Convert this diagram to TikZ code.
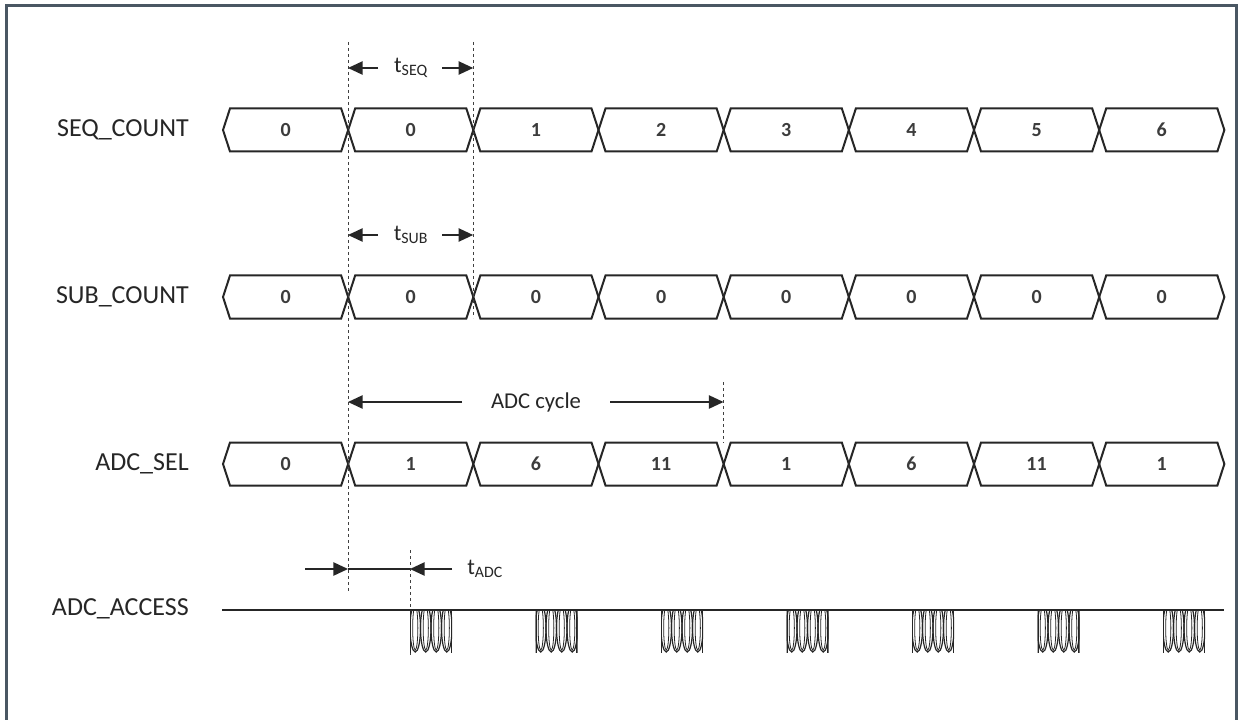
\documentclass[tikz,border=0pt]{standalone}
\usepackage{fontspec}
\setmainfont{Carlito}
\usetikzlibrary{arrows.meta}
\definecolor{framec}{HTML}{4A5763}
\definecolor{ink}{HTML}{262626}
\newcommand\busrow[3]{%
  \foreach \v [count=\i from 0] in {#3} {
    \pgfmathsetmacro\xa{223+\i*125.17}
    \pgfmathsetmacro\xb{\xa+125.17}
    \draw[bus] (\xa,#2) -- (\xa+7,#2-21.5) -- (\xb-7,#2-21.5) -- (\xb,#2)
      -- (\xb-7,#2+21.5) -- (\xa+7,#2+21.5) -- cycle;
    \node[val] (#1-\i) at ({(\xa+\xb)/2},#2) {\v};
  }%
}
\begin{document}
\begin{tikzpicture}[x=0.75pt,y=-0.75pt,
  bus/.style={line width=1.5pt, line join=miter, draw=ink},
  vline/.style={draw=black!75, line width=0.6pt, dash pattern=on 2.5pt off 2pt},
  sig/.style={font=\fontsize{19.5}{21}\selectfont, text=ink, anchor=east, inner sep=0pt},
  val/.style={font=\fontsize{15}{16}\selectfont\bfseries, text=ink!90, inner sep=0pt},
  dim/.style={line width=1.1pt, draw=ink, -{Triangle[length=11pt,width=10pt]}},
  plain/.style={line width=1.1pt, draw=ink},
  lbl/.style={font=\fontsize{17}{18}\selectfont, text=ink, inner sep=0pt},
  frame/.style={draw=framec, line width=2.3pt},
  coil/.style={draw=ink, line width=0.9pt}]
\useasboundingbox (0,0) rectangle (1245,720);
\fill[white] (0,0) rectangle (1245,720);
\draw[frame] (6.5,730) -- (6.5,5.5) -- (1236.5,5.5) -- (1236.5,730);

% signal names
\node[sig] (seqlbl) at (189,130) {SEQ\_COUNT};
\node[sig] (sublbl) at (189,297) {SUB\_COUNT};
\node[sig] (adclbl) at (189,464) {ADC\_SEL};
\node[sig] (acclbl) at (189,609) {ADC\_ACCESS};

% buses
\busrow{seq}{130}{0,0,1,2,3,4,5,6}
\busrow{sub}{297}{0,0,0,0,0,0,0,0}
\busrow{sel}{464}{0,1,6,11,1,6,11,1}

% dashed guide lines
\coordinate (d1t) at (348,42);  \coordinate (d1b) at (348,592);
\coordinate (d2t) at (473.2,42); \coordinate (d2b) at (473.2,318);
\coordinate (d3t) at (723.5,382); \coordinate (d3b) at (723.5,443);
\coordinate (d4t) at (410,550); \coordinate (d4b) at (410,657);
\draw[vline] (d1t) -- (d1b);
\draw[vline] (d2t) -- (d2b);
\draw[vline] (d3t) -- (d3b);
\draw[vline] (d4t) -- (d4b);

% t_SEQ
\node[lbl] (tseq) at (411,68) {t\textsubscript{SEQ}};
\coordinate (s1) at (378,68); \coordinate (s1e) at (348,68);
\coordinate (s2) at (442,68); \coordinate (s2e) at (473.2,68);
\draw[dim] (s1) -- (s1e);
\draw[dim] (s2) -- (s2e);

% t_SUB
\node[lbl] (tsub) at (411,235) {t\textsubscript{SUB}};
\coordinate (u1) at (378,235); \coordinate (u1e) at (348,235);
\coordinate (u2) at (442,235); \coordinate (u2e) at (473.2,235);
\draw[dim] (u1) -- (u1e);
\draw[dim] (u2) -- (u2e);

% ADC cycle
\node[lbl] (cyc) at (536,402) {ADC cycle};
\coordinate (c1) at (462,402); \coordinate (c1e) at (348,402);
\coordinate (c2) at (610,402); \coordinate (c2e) at (723.5,402);
\draw[dim] (c1) -- (c1e);
\draw[dim] (c2) -- (c2e);

% t_ADC
\node[lbl, anchor=west] (tadc) at (467,569) {t\textsubscript{ADC}};
\coordinate (a1) at (305,569); \coordinate (a1e) at (348,569);
\coordinate (a2) at (452,569); \coordinate (a2e) at (410,569);
\draw[dim] (a1) -- (a1e);
\draw[plain] (a1e) -- (a2e);
\draw[dim] (a2) -- (a2e);

% ADC_ACCESS line
\coordinate (l0) at (222,610); \coordinate (l1) at (1224,610);
\draw[line width=1.3pt, draw=ink] (l0) -- (l1);

% access bursts
\foreach \k in {0,...,6} {
  \pgfmathsetmacro\px{410+\k*125.5}
  \begin{scope}
    \clip (\px,610) rectangle (\px+42,653);
    \foreach \j in {0,...,3} {
      \draw[coil] (\px+5.25+\j*10.5,628) ellipse [x radius=5.25, y radius=24];
      \draw[coil, line width=0.6pt] (\px+5.25+\j*10.5,628) ellipse [x radius=2.6, y radius=22];
    }
    \draw[coil, line width=1.2pt] (\px+0.6,610) -- (\px+0.6,653);
    \draw[coil, line width=1.2pt] (\px+41.4,610) -- (\px+41.4,653);
  \end{scope}
}
\end{tikzpicture}
\end{document}
